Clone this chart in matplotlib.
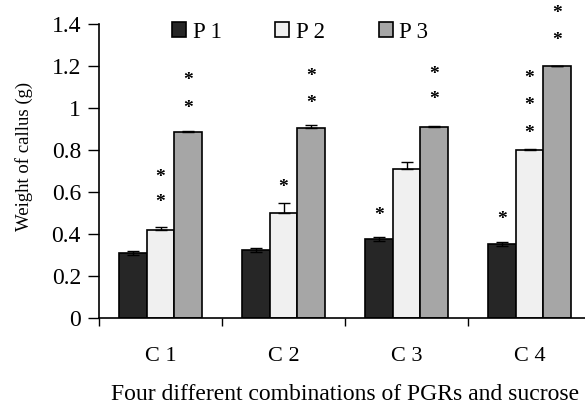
import numpy as np
import matplotlib
matplotlib.use("Agg")
import matplotlib.pyplot as plt

plt.rcParams['font.family'] = ['Liberation Serif', 'DejaVu Serif']

# === data ===
categories = ["C 1", "C 2", "C 3", "C 4"]
series = ["P 1", "P 2", "P 3"]
p1 = [0.31, 0.325, 0.375, 0.352]
p2 = [0.42, 0.50, 0.71, 0.80]
p3 = [0.886, 0.905, 0.91, 1.20]
p1_err = [0.01, 0.01, 0.01, 0.01]
p2_err = [0.015, 0.05, 0.035, 0.005]
p3_err = [0.003, 0.015, 0.005, 0.0]
# significance stars: (category index, series index, y position)
stars = [
    (0, 1, 0.67), (0, 1, 0.55), (0, 2, 1.13), (0, 2, 1.00),
    (1, 1, 0.62), (1, 2, 1.15), (1, 2, 1.02),
    (2, 0, 0.49), (2, 2, 1.16), (2, 2, 1.04),
    (3, 0, 0.47), (3, 1, 1.14), (3, 1, 1.01), (3, 1, 0.88),
    (3, 2, 1.45), (3, 2, 1.32),
]

colors = ["#262626", "#f0f0f0", "#a6a6a6"]
values = [p1, p2, p3]
errors = [p1_err, p2_err, p3_err]

fig = plt.figure(figsize=(5.85, 4.04), dpi=100)
ax = fig.add_axes([99/585, 1 - 318/404, 492/585, 294/404])

x = np.arange(len(categories)) + 0.5
w = 0.224
offsets = [-w, 0, w]
for i in range(3):
    ax.bar(x + offsets[i], values[i], width=w, color=colors[i],
           edgecolor="black", linewidth=1.2, label=series[i], zorder=2)
    if i == 0:
        yerr = errors[i]
    else:
        yerr = [np.zeros(len(categories)), errors[i]]
    ax.errorbar(x + offsets[i], values[i], yerr=yerr, fmt="none",
                ecolor="black", elinewidth=1, capsize=4, capthick=1, zorder=3)

for c, s, yy in stars:
    ax.text(x[c] + offsets[s], yy, "*", ha="center", va="center",
            fontsize=14, fontweight="bold", zorder=4)

ax.set_xlim(0, 4)
ax.set_ylim(0, 1.4)
ax.set_yticks(np.arange(0, 1.41, 0.2))
ax.set_yticklabels(["0", "0.2", "0.4", "0.6", "0.8", "1", "1.2", "1.4"])
ax.set_xticks([0, 1, 2, 3, 4])
ax.set_xticklabels([])
ax.set_xticks(x, minor=True)
ax.set_xticklabels(categories, minor=True)
ax.tick_params(axis="x", which="major", direction="out", length=6, width=1)
ax.tick_params(axis="x", which="minor", length=0, pad=21, labelsize=16)
ax.tick_params(axis="y", direction="out", length=8, width=1, labelsize=17, pad=5)

for sp in ["top", "right"]:
    ax.spines[sp].set_visible(False)
for sp in ["left", "bottom"]:
    ax.spines[sp].set_linewidth(1.2)

ax.set_ylabel("Weight of callus (g)", fontsize=13.5)
ax.yaxis.set_label_coords(-66/492, (318 - 156)/294)
ax.set_xlabel("Four different combinations of PGRs and sucrose", fontsize=17)
ax.xaxis.set_label_coords(0.5, -(394 - 318)/294)
ax.xaxis.label.set_va("center")

ax.legend(loc="center left", bbox_to_anchor=(172/585, 1 - 32/404),
          bbox_transform=fig.transFigure, ncol=3, frameon=False,
          fontsize=16.5, handlelength=0.6, handleheight=0.6, handletextpad=0.3,
          columnspacing=2.35, borderaxespad=0, borderpad=0)

fig.savefig("out.png", dpi=100)
